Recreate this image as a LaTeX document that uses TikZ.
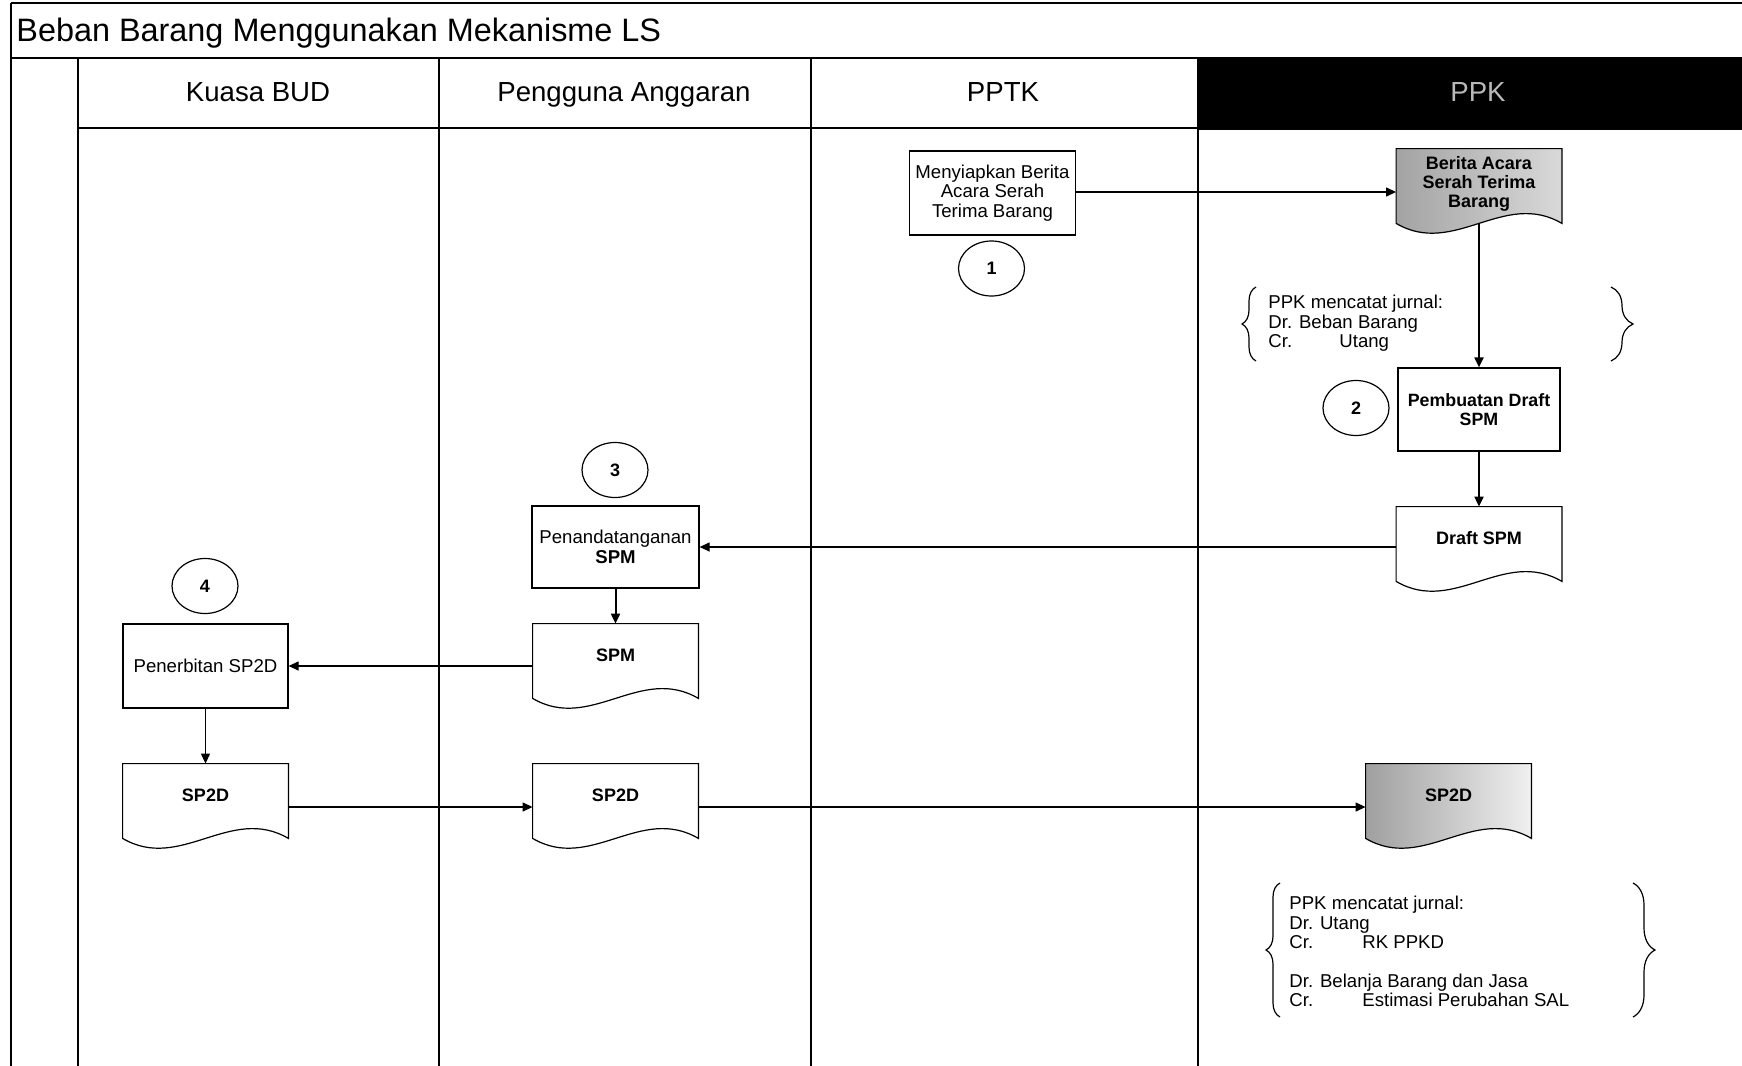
\documentclass[tikz,border=0pt]{standalone}
\usepackage{fontspec}
\setmainfont{Liberation Sans}
\usetikzlibrary{arrows.meta,calc,decorations.pathreplacing,backgrounds,shapes.geometric}

\newcommand{\drawdoc}[2]{%
  \draw[#2] (#1.north west) -- (#1.north east) -- (#1.south east)
    .. controls ($(#1.south east)!0.35!(#1.south west)+(0,-34)$)
    and ($(#1.south west)!0.35!(#1.south east)+(0,34)$) .. (#1.south west) -- cycle;}

\begin{document}
\begin{tikzpicture}[x=0.5pt,y=-0.5pt,
  every node/.style={font=\fontsize{9.3}{9.7}\selectfont, align=center, inner sep=1pt},
  procbox/.style={draw, line width=0.6pt, minimum width=83pt, minimum height=42pt},
  docbox/.style={minimum width=82.5pt, minimum height=37pt, text depth=6pt},
  stepnum/.style={ellipse, draw, line width=0.6pt, minimum width=33pt, minimum height=27.5pt, inner sep=0pt, font=\bfseries\fontsize{9}{10}\selectfont},
  lanehead/.style={anchor=base, font=\fontsize{13.8}{15}\selectfont},
  notetext/.style={align=left, anchor=north west, inner sep=0pt, font=\fontsize{9.3}{9.7}\selectfont},
  arr/.style={-{Triangle[length=5pt,width=4.5pt]}, line width=0.6pt},
  lane/.style={line width=0.6pt},
  bracedeco/.style={line width=0.6pt, decorate, decoration={brace, amplitude=#1}}
]
\useasboundingbox (0,0) rectangle (1742,1066);

% frame and lanes
\draw[line width=1.1pt] (11,3) -- (1742,3);
\draw[line width=0.8pt] (11,3) -- (11,1066);
\draw[line width=0.8pt] (11,58) -- (1742,58);
\draw[lane] (78,58) -- (78,1066);
\draw[lane] (439,58) -- (439,1066);
\draw[lane] (811,58) -- (811,1066);
\draw[line width=1pt] (1198,58) -- (1198,1066);
\draw[lane] (78,128) -- (1198,128);
\fill[black] (1198,58) rectangle (1742,130);

% title and headers
\node[anchor=west, font=\fontsize{16.2}{18}\selectfont, inner sep=0pt] (title) at (16,33) {Beban Barang Menggunakan Mekanisme LS};
\node[lanehead] (hbud) at (258,101) {Kuasa BUD};
\node[lanehead] (hpa) at (624,101) {Pengguna Anggaran};
\node[lanehead] (hpptk) at (1003,101) {PPTK};
\node[lanehead, text=gray!55] (hppk) at (1478,101) {PPK};

% PPTK
\node[procbox, font=\fontsize{9.3}{9.9}\selectfont] (box1) at (992.5,193) {Menyiapkan Berita\\Acara Serah\\Terima Barang};
\node[stepnum] (c1) at (991.5,268.5) {1};

% PPK
\node[docbox, text depth=4pt, font=\bfseries\fontsize{9}{9.7}\selectfont] (bast) at (1479,186) {Berita Acara\\Serah Terima\\Barang};
\node[notetext] (note1) at (1268,295) {PPK mencatat jurnal:\\Dr. Beban Barang\\\makebox[35.5pt][l]{Cr.}Utang};
\node[procbox, minimum width=81pt, minimum height=41.5pt, font=\bfseries\fontsize{8.9}{9.7}\selectfont] (pemb) at (1479,409.5) {Pembuatan Draft\\SPM};
\node[stepnum] (c2) at (1356,408) {2};
\node[docbox, font=\bfseries\fontsize{9}{9.7}\selectfont] (draft) at (1479,544) {Draft SPM};
\node[docbox, font=\bfseries\fontsize{9}{9.7}\selectfont] (sp2dC) at (1448.5,801) {SP2D};
\node[notetext] (note2) at (1289,896) {PPK mencatat jurnal:\\Dr. Utang\\\makebox[36.5pt][l]{Cr.}RK PPKD\\\mbox{}\\Dr. Belanja Barang dan Jasa\\\makebox[36.5pt][l]{Cr.}Estimasi Perubahan SAL};

% Pengguna Anggaran
\node[stepnum] (c3) at (615,470) {3};
\node[procbox, minimum width=83.5pt, minimum height=41pt] (pen) at (615.5,547) {Penandatanganan\\\textbf{SPM}};
\node[docbox, font=\bfseries\fontsize{9}{9.7}\selectfont] (spm) at (615.5,661) {SPM};
\node[docbox, font=\bfseries\fontsize{9}{9.7}\selectfont] (sp2dB) at (615.5,801) {SP2D};

% Kuasa BUD
\node[stepnum] (c4) at (205,586) {4};
\node[procbox, minimum width=82.5pt] (terbit) at (205.5,666) {Penerbitan SP2D};
\node[docbox, font=\bfseries\fontsize{9}{9.7}\selectfont] (sp2dA) at (205.5,801) {SP2D};

% document outlines
\begin{scope}[on background layer]
  \drawdoc{bast}{line width=0.6pt, left color=gray!72, right color=gray!30}
  \drawdoc{draft}{line width=0.6pt, fill=white}
  \drawdoc{spm}{line width=0.6pt, fill=white}
  \drawdoc{sp2dA}{line width=0.6pt, fill=white}
  \drawdoc{sp2dB}{line width=0.6pt, fill=white}
  \drawdoc{sp2dC}{line width=0.6pt, left color=gray!75, middle color=gray!45, right color=gray!12}
\end{scope}

% braces
\draw[bracedeco=7pt] (1256,361) -- (1256,287);
\draw[bracedeco=11pt] (1611,287) -- (1611,361);
\draw[bracedeco=7pt] (1280,1017) -- (1280,883);
\draw[bracedeco=11pt] (1633,883) -- (1633,1017);

% connectors
\draw[arr] (box1.east |- 0,192) -- (bast.west |- 0,192);
\draw[arr, line width=1pt] (bast.south) -- (pemb.north);
\draw[arr, line width=1pt] (pemb.south) -- (draft.north);
\draw[arr] (draft.west |- pen.east) -- (pen.east);
\draw[arr, line width=1pt] (pen.south) -- (spm.north);
\draw[arr] (spm.west |- terbit.east) -- (terbit.east);
\draw[arr] (terbit.south) -- (sp2dA.north);
\draw[arr] ([yshift=-3pt]sp2dA.east) -- ([yshift=-3pt]sp2dB.west);
\draw[arr] ([yshift=-3pt]sp2dB.east) -- ([yshift=-3pt]sp2dC.west);
\end{tikzpicture}
\end{document}
